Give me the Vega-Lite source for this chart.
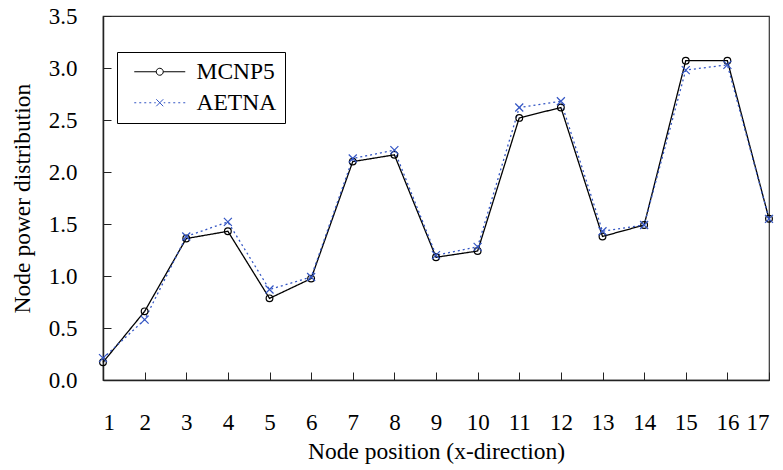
{
  "$schema": "https://vega.github.io/schema/vega-lite/v6.json",
  "width": 666,
  "height": 364,
  "autosize": {"type": "none"},
  "padding": {"left": 103, "top": 16, "right": 14, "bottom": 90},
  "background": "white",
  "config": {
    "font": "Liberation Serif",
    "view": {"stroke": "#333", "strokeWidth": 1.2},
    "axis": {
      "labelFont": "Liberation Serif",
      "labelFontSize": 23,
      "labelColor": "black",
      "titleFont": "Liberation Serif",
      "titleFontSize": 23.5,
      "titleFontWeight": "normal",
      "titleColor": "black",
      "domainColor": "#222",
      "domainWidth": 1.5,
      "tickColor": "#222",
      "tickWidth": 1,
      "grid": false
    }
  },
  "data": {
    "values": [
      {"node": 1, "series": "MCNP5", "value": 0.17},
      {"node": 2, "series": "MCNP5", "value": 0.66},
      {"node": 3, "series": "MCNP5", "value": 1.36},
      {"node": 4, "series": "MCNP5", "value": 1.43},
      {"node": 5, "series": "MCNP5", "value": 0.785},
      {"node": 6, "series": "MCNP5", "value": 0.975},
      {"node": 7, "series": "MCNP5", "value": 2.1},
      {"node": 8, "series": "MCNP5", "value": 2.165},
      {"node": 9, "series": "MCNP5", "value": 1.18},
      {"node": 10, "series": "MCNP5", "value": 1.24},
      {"node": 11, "series": "MCNP5", "value": 2.52},
      {"node": 12, "series": "MCNP5", "value": 2.62},
      {"node": 13, "series": "MCNP5", "value": 1.38},
      {"node": 14, "series": "MCNP5", "value": 1.49},
      {"node": 15, "series": "MCNP5", "value": 3.07},
      {"node": 16, "series": "MCNP5", "value": 3.07},
      {"node": 17, "series": "MCNP5", "value": 1.55},
      {"node": 1, "series": "AETNA", "value": 0.21},
      {"node": 2, "series": "AETNA", "value": 0.58},
      {"node": 3, "series": "AETNA", "value": 1.38},
      {"node": 4, "series": "AETNA", "value": 1.52},
      {"node": 5, "series": "AETNA", "value": 0.87},
      {"node": 6, "series": "AETNA", "value": 0.99},
      {"node": 7, "series": "AETNA", "value": 2.13},
      {"node": 8, "series": "AETNA", "value": 2.21},
      {"node": 9, "series": "AETNA", "value": 1.2},
      {"node": 10, "series": "AETNA", "value": 1.28},
      {"node": 11, "series": "AETNA", "value": 2.62},
      {"node": 12, "series": "AETNA", "value": 2.68},
      {"node": 13, "series": "AETNA", "value": 1.43},
      {"node": 14, "series": "AETNA", "value": 1.49},
      {"node": 15, "series": "AETNA", "value": 2.98},
      {"node": 16, "series": "AETNA", "value": 3.03},
      {"node": 17, "series": "AETNA", "value": 1.55}
    ]
  },
  "encoding": {
    "x": {
      "field": "node",
      "type": "quantitative",
      "scale": {"domain": [1, 17], "nice": false, "zero": false},
      "axis": {
        "title": "Node position (x-direction)",
        "values": [1,2,3,4,5,6,7,8,9,10,11,12,13,14,15,16,17],
        "tickSize": -8,
        "labelPadding": 39,
        "labelBaseline": "top",
        "titlePadding": 5
      }
    },
    "y": {
      "field": "value",
      "type": "quantitative",
      "scale": {"domain": [0, 3.5], "nice": false},
      "axis": {
        "title": "Node power distribution",
        "values": [0, 0.5, 1, 1.5, 2, 2.5, 3, 3.5],
        "format": ".1f",
        "tickSize": -8,
        "labelPadding": 34,
        "titlePadding": 14
      }
    }
  },
  "resolve": {"legend": {"color": "independent", "shape": "independent", "strokeDash": "independent"}},
  "layer": [
    {
      "mark": {"type": "line", "strokeWidth": 1.3},
      "encoding": {
        "color": {
          "field": "series",
          "type": "nominal",
          "scale": {"domain": ["MCNP5", "AETNA"], "range": ["black", "#3456c4"]},
          "legend": null
        },
        "strokeDash": {
          "field": "series",
          "type": "nominal",
          "scale": {"domain": ["MCNP5", "AETNA"], "range": [[1, 0], [2, 3]]},
          "legend": null
        }
      }
    },
    {
      "transform": [{"filter": "datum.series === 'MCNP5'"}],
      "mark": {"type": "point", "filled": false, "shape": "circle", "size": 45, "color": "black", "strokeWidth": 1.2, "opacity": 1}
    },
    {
      "transform": [{"filter": "datum.series === 'AETNA'"}],
      "mark": {"type": "point", "filled": false, "shape": "M-1,-1L1,1M-1,1L1,-1", "size": 64, "color": "#3456c4", "strokeWidth": 1.2, "opacity": 1}
    },
    {
      "mark": {"type": "point", "filled": false, "opacity": 0},
      "encoding": {
        "color": {
          "field": "series",
          "type": "nominal",
          "legend": {
            "title": null,
            "orient": "none",
            "legendX": 14,
            "legendY": 36,
            "direction": "vertical",
            "padding": 8,
            "strokeColor": "black",
            "fillColor": "white",
            "labelFont": "Liberation Serif",
            "labelFontSize": 23.5,
            "labelColor": "black",
            "symbolSize": 100,
            "symbolStrokeWidth": 1,
            "symbolOpacity": 1,
            "symbolOffset": 23,
            "labelOffset": 25,
            "rowPadding": 6
          }
        },
        "shape": {
          "field": "series",
          "type": "nominal",
          "scale": {"domain": ["MCNP5", "AETNA"], "range": [
            "M-5.1,0H-0.7M0.7,0H5.1M-0.7,0A0.7,0.7 0 1 1 0.7,0A0.7,0.7 0 1 1 -0.7,0",
            "M-5.1,0h0.4M-4.1,0h0.4M-3.1,0h0.4M-2.1,0h0.4M-1.1,0h0.3M0.8,0h0.3M1.7,0h0.4M2.7,0h0.4M3.7,0h0.4M4.7,0h0.4M-0.7,-0.7L0.7,0.7M-0.7,0.7L0.7,-0.7"
          ]},
          "legend": null
        }
      }
    }
  ]
}
